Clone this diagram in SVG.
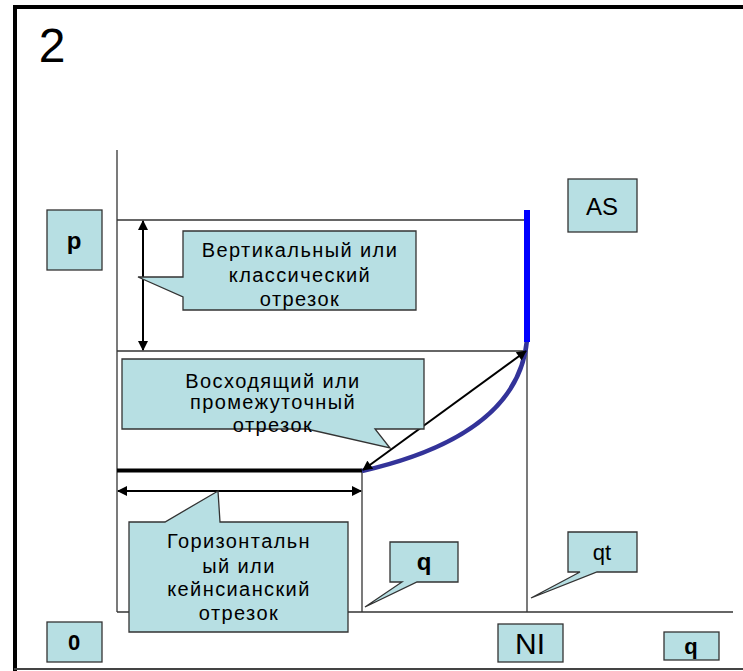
<svg xmlns="http://www.w3.org/2000/svg" width="743" height="671" viewBox="0 0 743 671">
  <style>
    .axis { stroke: #333; stroke-width: 1.3; fill: none; }
    .label { fill: #b7dfe3; stroke: #333; stroke-width: 1.3; }
    .txt { font-family: "Liberation Sans", Arial, sans-serif; fill: #000; text-anchor: middle; }
    .callout { font-size: 20px; letter-spacing: 1.4px; }
    .dbl { stroke: #000; stroke-width: 2; fill: none; marker-start: url(#ah); marker-end: url(#ah); }
  </style>
  <defs>
    <marker id="ah" viewBox="0 0 10 10" refX="9" refY="5" markerWidth="11" markerHeight="10" orient="auto-start-reverse" markerUnits="userSpaceOnUse">
      <path d="M0,0 L10,5 L0,10 Z" fill="#000"/>
    </marker>
  </defs>

  <rect width="743" height="671" fill="#fff"/>

  <!-- frame -->
  <g id="frame">
    <line x1="14" y1="7" x2="743" y2="7" stroke="#000" stroke-width="4"/>
    <line x1="15" y1="5" x2="15" y2="671" stroke="#000" stroke-width="4"/>
    <line x1="14" y1="669" x2="743" y2="669" stroke="#444" stroke-width="2"/>
    <text class="txt" x="52" y="62" font-size="48">2</text>
  </g>

  <!-- axes and guide lines -->
  <g id="axes">
    <line class="axis" x1="117" y1="150" x2="117" y2="612"/>
    <line class="axis" x1="117" y1="612" x2="733" y2="612"/>
    <line class="axis" x1="117" y1="220" x2="527" y2="220"/>
    <line class="axis" x1="117" y1="351" x2="527" y2="351"/>
    <line class="axis" x1="362" y1="470" x2="362" y2="612"/>
    <line class="axis" x1="527" y1="340" x2="527" y2="612"/>
  </g>

  <!-- aggregate supply curve -->
  <g id="as-curve">
    <line x1="117" y1="470.5" x2="362" y2="470.5" stroke="#000" stroke-width="4"/>
    <path d="M362,471 C445,452 520,415 527,340" stroke="#333399" stroke-width="4.5" fill="none"/>
    <line x1="527" y1="210" x2="527" y2="342" stroke="#0000ff" stroke-width="6"/>
  </g>

  <!-- connectors -->
  <g id="connectors">
    <line class="dbl" x1="143" y1="221" x2="143" y2="350"/>
    <line class="dbl" x1="118" y1="491" x2="361" y2="491"/>
    <line class="dbl" x1="363" y1="470" x2="526" y2="351"/>
  </g>

  <g id="label-p">
    <rect class="label" x="47" y="210" width="55" height="60"/>
    <text class="txt" x="74" y="249" font-size="24" font-weight="bold">p</text>
  </g>

  <g id="label-as">
    <rect class="label" x="568" y="179" width="69" height="53"/>
    <text class="txt" x="602" y="215" font-size="24">AS</text>
  </g>

  <g id="callout-vertical">
    <path class="label" d="M183,231 H416 V310 H183 V297 L138,277 H183 Z"/>
    <text class="txt callout" x="300" y="257">Вертикальный или</text>
    <text class="txt callout" x="300" y="282">классический</text>
    <text class="txt callout" x="300" y="306">отрезок</text>
  </g>

  <g id="callout-rising">
    <path class="label" d="M122,359 H424 V429 H375 L390,448 L307,429 H122 Z"/>
    <text class="txt callout" x="273" y="388">Восходящий или</text>
    <text class="txt callout" x="273" y="409">промежуточный</text>
    <text class="txt callout" x="273" y="432">отрезок</text>
  </g>

  <g id="callout-horizontal">
    <path class="label" d="M129,522 H165 L218,491 L220,522 H348 V632 H129 Z"/>
    <text class="txt callout" x="239" y="548">Горизонтальн</text>
    <text class="txt callout" x="239" y="573">ый или</text>
    <text class="txt callout" x="239" y="596">кейнсианский</text>
    <text class="txt callout" x="239" y="620">отрезок</text>
  </g>

  <g id="callout-q">
    <path class="label" d="M390,542 H458 V582 H417 L365,607 L402,582 H390 Z"/>
    <text class="txt" x="424" y="570" font-size="24" font-weight="bold">q</text>
  </g>

  <g id="callout-qt">
    <path class="label" d="M568,532 H637 V572 H597 L531,598 L580,572 H568 Z"/>
    <text class="txt" x="602" y="560" font-size="22">qt</text>
  </g>

  <g id="label-0">
    <rect class="label" x="47" y="622" width="55" height="40"/>
    <text class="txt" x="74" y="650" font-size="22" font-weight="bold">0</text>
  </g>

  <g id="label-ni">
    <rect class="label" x="498" y="624" width="65" height="38"/>
    <text class="txt" x="530" y="654" font-size="30">NI</text>
  </g>

  <g id="label-q">
    <rect class="label" x="664" y="632" width="55" height="28"/>
    <text class="txt" x="691" y="654" font-size="22" font-weight="bold">q</text>
  </g>
</svg>
